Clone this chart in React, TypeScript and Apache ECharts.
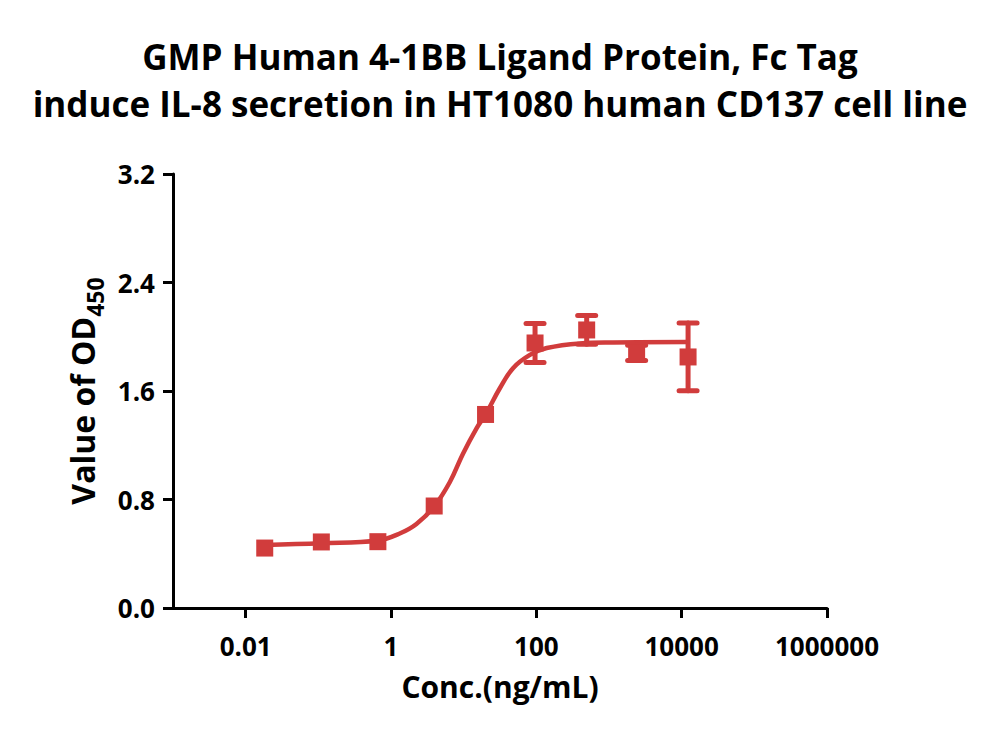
import React, { useEffect, useRef } from "react";
import * as echarts from "echarts";

const titleLines = [
  "GMP Human 4-1BB Ligand Protein, Fc Tag",
  "induce IL-8 secretion in HT1080 human CD137 cell line",
];
const xAxisName = "Conc.(ng/mL)";
const yAxisMain = "Value of OD";
const yAxisSub = "450";

const xTickValues = [0.01, 1, 100, 10000, 1000000];
const yTickValues = [0, 0.8, 1.6, 2.4, 3.2];

// measured points
const conc = [0.0183, 0.11, 0.66, 3.93, 20.0, 96, 493, 2400, 12250];
const od = [0.442, 0.487, 0.489, 0.752, 1.427, 1.954, 2.05, 1.881, 1.851];
const odErr = [0, 0, 0, 0, 0, 0.144, 0.106, 0.057, 0.25];

// fitted curve
const curveConc = [
  0.01828, 0.1104, 0.664, 1.32, 2.24, 3.93, 6.46, 9.75, 15.1, 20.2, 31.6,
  48.1, 81.6, 139, 399, 1135, 12250,
];
const curveOd = [
  0.465, 0.477, 0.498, 0.549, 0.619, 0.749, 0.929, 1.136, 1.327, 1.431, 1.622,
  1.77, 1.866, 1.917, 1.951, 1.958, 1.962,
];

const RED = "#D13C3C";
const FONT = "Open Sans";

export default function App() {
  const ref = useRef<HTMLDivElement>(null);
  useEffect(() => {
    if (!ref.current) return;
    const chart = echarts.init(ref.current, undefined, { renderer: "svg" });
    const option: any = {
      animation: false,
      backgroundColor: "#ffffff",
      title: {
        text: titleLines.join("\n"),
        left: "center",
        top: 28,
        textStyle: {
          fontFamily: FONT,
          fontWeight: "bold",
          fontSize: 35,
          lineHeight: 47,
          color: "#000",
        },
      },
      grid: { left: 173, right: 173, top: 174, bottom: 136 },
      xAxis: {
        type: "log",
        logBase: 10,
        min: 0.001,
        max: 1000000,
        name: xAxisName,
        nameLocation: "middle",
        nameGap: 63,
        nameTextStyle: {
          fontFamily: FONT,
          fontWeight: "bold",
          fontSize: 30,
          color: "#000",
        },
        axisLine: { show: true, lineStyle: { color: "#000", width: 3 } },
        axisTick: {
          show: true,
          inside: false,
          length: 10,
          customValues: xTickValues,
          lineStyle: { color: "#000", width: 3 },
        },
        axisLabel: {
          customValues: xTickValues,
          margin: 25,
          fontFamily: FONT,
          fontWeight: "bold",
          fontSize: 26,
          color: "#000",
          formatter: (v: number) => String(v),
        },
        splitLine: { show: false },
        minorTick: { show: false },
      },
      yAxis: {
        type: "value",
        min: 0,
        max: 3.2,
        interval: 0.8,
        name: "{a|" + yAxisMain + "}{b|" + yAxisSub + "}",
        nameLocation: "middle",
        nameGap: 66,
        nameRotate: 90,
        nameTextStyle: {
          color: "#000",
          rich: {
            a: {
              fontFamily: FONT,
              fontWeight: "bold",
              fontSize: 32,
              lineHeight: 32,
              verticalAlign: "top",
              color: "#000",
            },
            b: {
              fontFamily: FONT,
              fontWeight: "bold",
              fontSize: 23,
              lineHeight: 23,
              padding: [17, 0, 0, 0],
              verticalAlign: "top",
              color: "#000",
            },
          },
        },
        axisLine: { show: true, lineStyle: { color: "#000", width: 3 } },
        axisTick: {
          show: true,
          inside: false,
          length: 10,
          customValues: yTickValues,
          lineStyle: { color: "#000", width: 3 },
        },
        axisLabel: {
          customValues: yTickValues,
          margin: 18,
          fontFamily: FONT,
          fontWeight: "bold",
          fontSize: 26,
          color: "#000",
          formatter: (v: number) => v.toFixed(1),
        },
        splitLine: { show: false },
      },
      series: [
        {
          type: "line",
          data: curveConc.map((c, i) => [c, curveOd[i]]),
          smooth: 0.4,
          showSymbol: false,
          symbol: "none",
          lineStyle: { color: RED, width: 4.5 },
          z: 2,
        },
        {
          type: "custom",
          data: conc.map((c, i) => [c, od[i], odErr[i]]),
          renderItem: (params: any, api: any) => {
            const x = api.value(0);
            const y = api.value(1);
            const e = api.value(2);
            if (!e) return null;
            const top = api.coord([x, y + e]);
            const bot = api.coord([x, y - e]);
            const hw = 9;
            const style = {
              stroke: RED,
              lineWidth: 5,
              lineCap: "round",
              fill: "none",
            };
            return {
              type: "group",
              children: [
                {
                  type: "line",
                  shape: { x1: top[0], y1: top[1], x2: bot[0], y2: bot[1] },
                  style,
                },
                {
                  type: "line",
                  shape: { x1: top[0] - hw, y1: top[1], x2: top[0] + hw, y2: top[1] },
                  style,
                },
                {
                  type: "line",
                  shape: { x1: bot[0] - hw, y1: bot[1], x2: bot[0] + hw, y2: bot[1] },
                  style,
                },
              ],
            };
          },
          z: 3,
        },
        {
          type: "scatter",
          data: conc.map((c, i) => [c, od[i]]),
          symbol: "rect",
          symbolSize: 17,
          itemStyle: { color: RED, opacity: 1 },
          z: 4,
        },
      ],
    };
    chart.setOption(option);
    return () => chart.dispose();
  }, []);
  return (
    <div
      ref={ref}
      style={{ position: "fixed", left: 0, top: 0, width: 1000, height: 744 }}
    />
  );
}
